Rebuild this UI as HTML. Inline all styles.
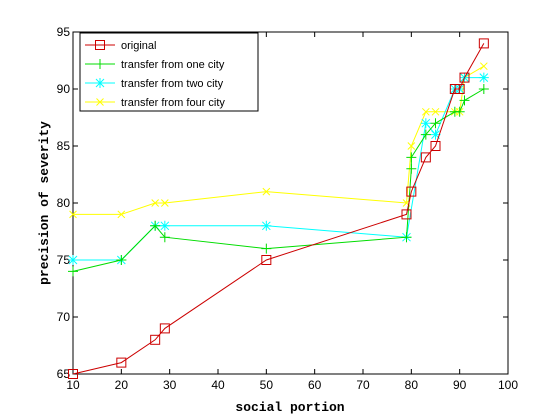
<!DOCTYPE html>
<html><head><meta charset="utf-8"><style>
body{margin:0;background:#fff;}
svg{display:block;font-family:"Liberation Sans",sans-serif;}
</style></head><body>
<svg id="chart" width="560" height="420">
<rect x="0" y="0" width="560" height="420" fill="#fff"/>
<g id="axes"></g>
<g id="series"></g>
<g id="legend"></g>
</svg>
<script>
const xTicks=[10,20,30,40,50,60,70,80,90,100];
const yTicks=[65,70,75,80,85,90,95];
const origX=[10,20,27,29,50,79,80,83,85,89,90,91,95];
const origY=[65,66,68,69,75,79,81,84,85,90,90,91,94];
const oneX=[10,20,27,29,50,79,80,80,83,85,89,90,91,95];
const oneY=[74,75,78,77,76,77,83,84,86,87,88,88,89,90];
const twoX=[10,20,27,29,50,79,83,85,89,90,91,95];
const twoY=[75,75,78,78,78,77,87,86,90,90,91,91];
const fourX=[10,20,27,29,50,79,80,83,85,89,90,91,95];
const fourY=[79,79,80,80,81,80,85,88,88,88,88,91,92];
const seriesNames=["original","transfer from one city","transfer from two city","transfer from four city"];
const L=73,R=508,T=32,B=374;
const xs=v=>L+(v-10)/90*(R-L);
const ys=v=>B-(v-65)/30*(B-T);
const NS="http://www.w3.org/2000/svg";
function mk(tag,attrs,parent){const e=document.createElementNS(NS,tag);for(const k in attrs)e.setAttribute(k,attrs[k]);parent.appendChild(e);return e;}
const ax=document.getElementById('axes');
const frame=mk('rect',{x:L,y:T,width:R-L,height:B-T,fill:'none',stroke:'#000','stroke-width':1},ax);


xTicks.forEach(t=>{
 const x=xs(t);
 mk('line',{x1:x,y1:B,x2:x,y2:B-5,stroke:'#000'},ax);
 mk('line',{x1:x,y1:T,x2:x,y2:T+5,stroke:'#000'},ax);
 const tx=mk('text',{x:x,y:B+15,'text-anchor':'middle','font-size':12},ax);
 tx.textContent=t;
 
 
});
yTicks.forEach(t=>{
 const y=ys(t);
 mk('line',{x1:L,y1:y,x2:L+5,y2:y,stroke:'#000'},ax);
 mk('line',{x1:R,y1:y,x2:R-5,y2:y,stroke:'#000'},ax);
 const tx=mk('text',{x:L-3,y:y+4,'text-anchor':'end','font-size':12},ax);
 tx.textContent=t;
 
 
});
const xl=mk('text',{x:290,y:411,'text-anchor':'middle','font-size':13,'font-weight':'bold','font-family':'Liberation Mono, monospace'},ax);
xl.textContent='social portion';


const yl=mk('text',{x:0,y:0,transform:'translate(48,203) rotate(-90)','text-anchor':'middle','font-size':13,'font-weight':'bold','font-family':'Liberation Mono, monospace'},ax);
yl.textContent='precision of severity';



function marker(type,x,y,c,g){
 if(type==='sq') mk('rect',{x:x-4.5,y:y-4.5,width:9,height:9,fill:'none',stroke:c},g);
 else if(type==='plus'){mk('path',{d:`M${x-5} ${y}H${x+5}M${x} ${y-5}V${y+5}`,stroke:c,fill:'none'},g);}
 else if(type==='star'){mk('path',{d:`M${x-5} ${y}H${x+5}M${x} ${y-5}V${y+5}M${x-4} ${y-4}L${x+4} ${y+4}M${x-4} ${y+4}L${x+4} ${y-4}`,stroke:c,fill:'none'},g);}
 else {mk('path',{d:`M${x-3.5} ${y-3.5}L${x+3.5} ${y+3.5}M${x-3.5} ${y+3.5}L${x+3.5} ${y-3.5}`,stroke:c,fill:'none'},g);}
}
const sg=document.getElementById('series');
const defs=[[fourX,fourY,'#ffff00','x','series-four-city'],[twoX,twoY,'#00ffff','star','series-two-city'],[oneX,oneY,'#00dd00','plus','series-one-city'],[origX,origY,'#cc0000','sq','series-original']];
defs.forEach(([X,Y,c,m,name])=>{
 const g=mk('g',{},sg);
 
 
 mk('polyline',{points:X.map((v,i)=>xs(v)+','+ys(Y[i])).join(' '),fill:'none',stroke:c,'stroke-width':1},g);
 X.forEach((v,i)=>marker(m,xs(v),ys(Y[i]),c,g));
});
const lg=document.getElementById('legend');
const lb=mk('rect',{x:80,y:33,width:178,height:78,fill:'#fff',stroke:'#000'},lg);


const lc=[['#cc0000','sq'],['#00dd00','plus'],['#00ffff','star'],['#ffff00','x']];
seriesNames.forEach((n,i)=>{
 const y=45+i*19;
 const g=mk('g',{},lg);
 
 
 mk('line',{x1:85,y1:y,x2:115,y2:y,stroke:lc[i][0]},g);
 marker(lc[i][1],100,y,lc[i][0],g);
 const t=mk('text',{x:121,y:y+4,'font-size':11},g);
 t.textContent=n;
});
</script>
</body></html>
